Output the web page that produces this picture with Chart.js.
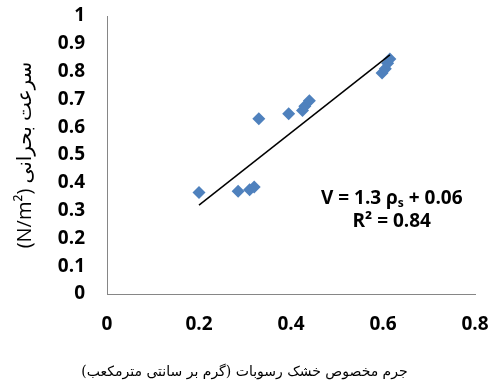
<!DOCTYPE html>
<html lang="fa">
<head>
    <meta charset="UTF-8">
    <title>Critical velocity vs dry density</title>
    <script src="https://cdn.jsdelivr.net/npm/chart.js"></script>
    <style>
        body { margin: 0; background: #fff; }
        canvas { display: block; }
    </style>
</head>
<body dir="ltr">
<canvas id="scatterChart" width="489" height="385"></canvas>

<script>
// measured points (dry density, critical velocity)
const densityX = [0.20, 0.285, 0.31, 0.32, 0.33, 0.395, 0.425, 0.43, 0.44, 0.598, 0.605, 0.61, 0.615];
const velocityY = [0.365, 0.37, 0.375, 0.385, 0.63, 0.648, 0.66, 0.675, 0.695, 0.795, 0.81, 0.83, 0.845];

// trend line ends
const trendX = [0.2, 0.615];
const trendY = [0.32, 0.86];

const xTicks = [0, 0.2, 0.4, 0.6, 0.8];
const yTicks = [0, 0.1, 0.2, 0.3, 0.4, 0.5, 0.6, 0.7, 0.8, 0.9, 1];

const yTitle = '(N/m²) سرعت بحرانی';
const xTitle = 'جرم مخصوص خشک رسوبات (گرم بر سانتی مترمکعب)';

const eqLine1 = ['V = 1.3 ρ', 's', ' + 0.06'];
const eqLine2 = 'R² = 0.84';
const eqPos = { x: 0.619, y1: 0.342, y2: 0.259 };

const tickFont = { family: "'Open Sans', sans-serif", size: 19, weight: 'bold' };

// regression equation and bottom title
const textPlugin = {
    id: 'extraText',
    afterDraw(chart) {
        const ctx = chart.ctx;
        const xs = chart.scales.x, ys = chart.scales.y;
        ctx.save();
        ctx.direction = 'ltr';
        ctx.fillStyle = '#000';
        ctx.textBaseline = 'middle';
        ctx.textAlign = 'left';

        // equation
        const cx = xs.getPixelForValue(eqPos.x);
        const big = "bold 19px 'Open Sans', sans-serif";
        const small = "bold 12px 'Open Sans', sans-serif";
        ctx.font = big;
        const w1 = ctx.measureText(eqLine1[0]).width;
        const w3 = ctx.measureText(eqLine1[2]).width;
        ctx.font = small;
        const w2 = ctx.measureText(eqLine1[1]).width;
        let x = cx - (w1 + w2 + w3) / 2;
        const y1 = ys.getPixelForValue(eqPos.y1);
        ctx.font = big;
        ctx.fillText(eqLine1[0], x, y1);
        x += w1;
        ctx.font = small;
        ctx.fillText(eqLine1[1], x, y1 + 5);
        x += w2;
        ctx.font = big;
        ctx.fillText(eqLine1[2], x, y1);
        ctx.textAlign = 'center';
        ctx.fillText(eqLine2, cx, ys.getPixelForValue(eqPos.y2));

        // x axis title (right-to-left)
        ctx.direction = 'rtl';
        ctx.textAlign = 'center';
        ctx.font = "14px 'DejaVu Serif', 'DejaVu Sans', serif";
        ctx.fillText(xTitle, chart.width / 2, chart.height - 13);
        ctx.restore();
    }
};

new Chart(document.getElementById('scatterChart'), {
    type: 'scatter',
    data: {
        datasets: [
            {
                label: 'data',
                data: densityX.map((v, i) => ({ x: v, y: velocityY[i] })),
                backgroundColor: '#4F81BD',
                borderWidth: 0,
                pointStyle: 'rectRot',
                pointRadius: 6.5,
                pointHoverRadius: 6.5,
                order: 2
            },
            {
                label: 'trend',
                type: 'line',
                data: trendX.map((v, i) => ({ x: v, y: trendY[i] })),
                borderColor: '#000',
                borderWidth: 1.5,
                pointRadius: 0,
                fill: false,
                order: 1
            }
        ]
    },
    options: {
        responsive: false,
        animation: false,
        layout: { padding: { top: 16, right: 14, left: 0, bottom: 21 } },
        plugins: {
            legend: { display: false },
            tooltip: { enabled: false }
        },
        scales: {
            x: {
                type: 'linear',
                min: 0,
                max: 0.8,
                afterBuildTicks: s => { s.ticks = xTicks.map(v => ({ value: v })); },
                afterFit: s => { s.height = 70; s.paddingLeft = 0; s.paddingRight = 0; },
                ticks: { color: '#000', font: tickFont, padding: 19, callback: v => String(+v.toFixed(2)) },
                grid: { display: false, drawTicks: false },
                border: { display: true, color: '#868686', width: 1 }
            },
            y: {
                min: 0,
                max: 1,
                afterBuildTicks: s => { s.ticks = yTicks.map(v => ({ value: v })); },
                afterFit: s => { s.width = 107; s.paddingTop = 0; s.paddingBottom = 0; },
                ticks: { color: '#000', font: tickFont, padding: 22, callback: v => String(+v.toFixed(2)) },
                grid: { display: false, drawTicks: false },
                border: { display: true, color: '#868686', width: 1 },
                title: {
                    display: true,
                    text: yTitle,
                    color: '#000',
                    font: { family: "'Open Sans', 'DejaVu Sans', sans-serif", size: 20 },
                    padding: { top: 13, bottom: 0 }
                }
            }
        }
    },
    plugins: [textPlugin]
});
</script>
</body>
</html>
